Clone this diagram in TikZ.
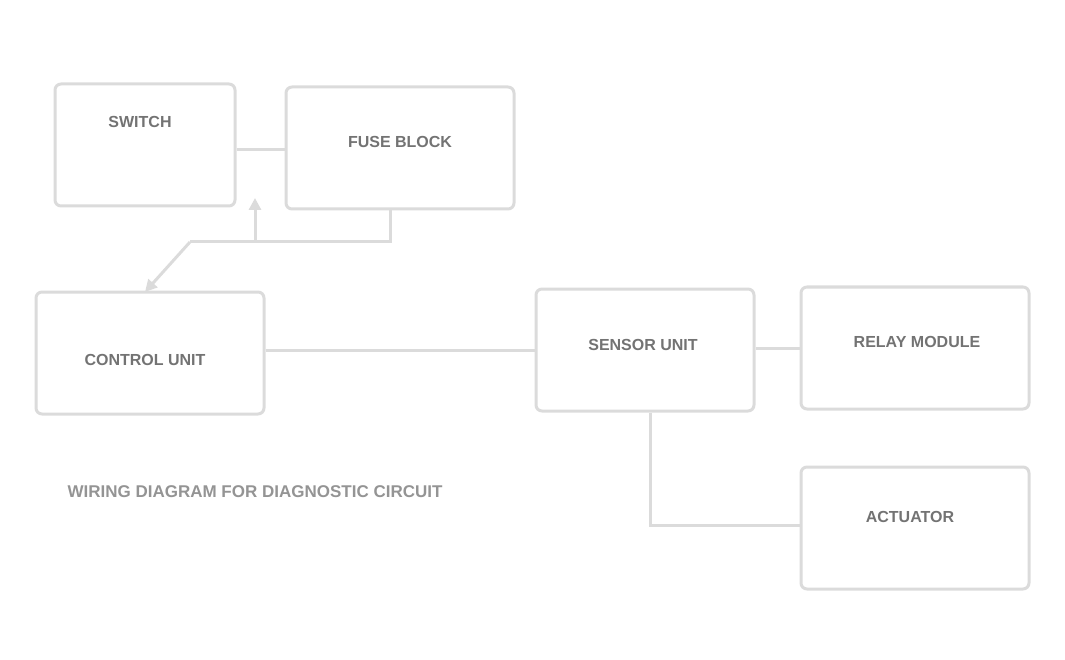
\documentclass[tikz,border=0pt]{standalone}
\usepackage{fontspec}
\setmainfont{Liberation Sans}
\usetikzlibrary{arrows.meta,positioning}
\begin{document}
\begin{tikzpicture}[x=1pt,y=-1pt,
  box/.style={draw=black!14,line width=3pt,rounded corners=6pt,fill=white,minimum width=#1,minimum height=122pt,inner sep=0pt},
  lbl/.style={text=black!55,font=\bfseries\fontsize{16}{18}\selectfont},
  wire/.style={draw=black!14,line width=3pt},
  tip/.style={-{Triangle[length=12pt,width=12pt]}}]
\useasboundingbox (0,0) rectangle (1065,660);
% boxes
\node[box=180pt] (a) at (145,145) {};
\node[box=228pt] (b) at (400,148) {};
\node[box=228pt] (c) at (150,353) {};
\node[box=218pt] (d) at (645,350) {};
\node[box=228pt] (e) at (915,348) {};
\node[box=228pt] (f) at (915,528) {};
% labels
\node[lbl] (ta) at (140,122) {SWITCH};
\node[lbl] (tb) at (400,142) {FUSE BLOCK};
\node[lbl] (tc) at (145,360) {CONTROL UNIT};
\node[lbl] (td) at (643,345) {SENSOR UNIT};
\node[lbl] (te) at (917,342) {RELAY MODULE};
\node[lbl] (tf) at (910,517) {ACTUATOR};
\node[lbl,text=black!42,font=\bfseries\fontsize{17}{19}\selectfont] (note) at (255,492) {WIRING DIAGRAM FOR DIAGNOSTIC CIRCUIT};
% connectors
\coordinate (j1) at (390,242);
\coordinate (j2) at (190,242);
\coordinate (j3) at (650,525);
\draw[wire] (a.east |- 0,150) -- (b.west |- 0,150);
\draw[wire,tip] (255,242) -- (255,198);
\draw[wire] (b.south -| j1) -- (j1) -- (j2);
\draw[wire,tip] (j2) -- (145,292);
\draw[wire] (c.east |- 0,350) -- (d.west |- 0,350);
\draw[wire] (d.east |- 0,348) -- (e.west |- 0,348);
\draw[wire] (d.south -| j3) -- (j3) -- (f.west |- j3);
\end{tikzpicture}
\end{document}
